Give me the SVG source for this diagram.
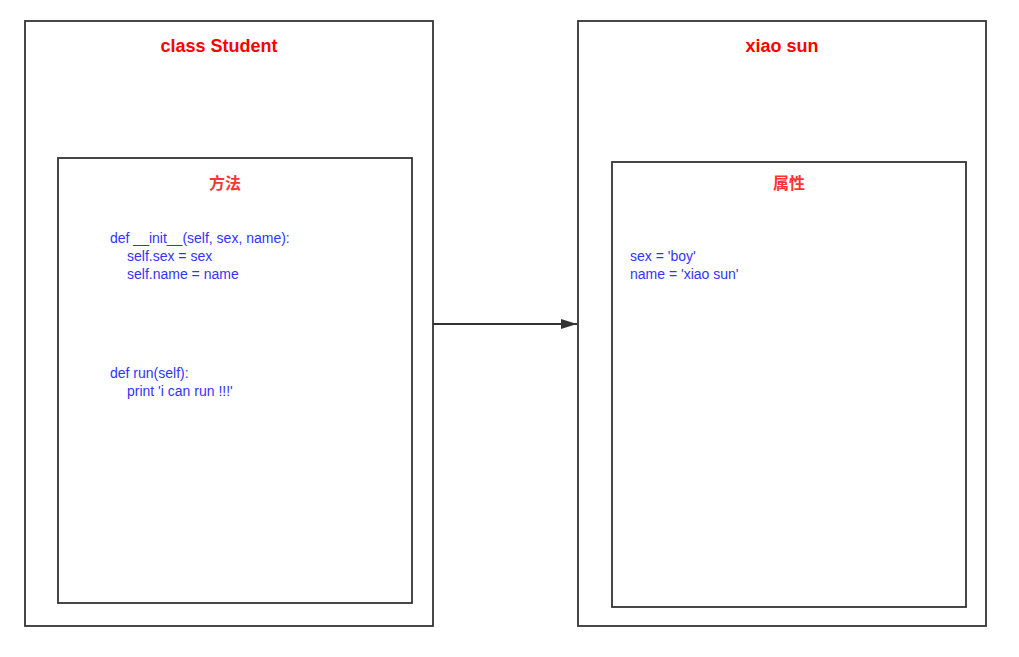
<svg xmlns="http://www.w3.org/2000/svg" width="1019" height="657" viewBox="0 0 1019 657">
<defs>
<style>
.box{fill:#fff;stroke:#333;stroke-width:1.8}
.title{font-family:"Liberation Sans","Noto Sans CJK SC",sans-serif;font-size:18px;font-weight:bold;fill:#ff0000;text-anchor:middle}
.sub{font-family:"Noto Sans CJK SC","Liberation Sans",sans-serif;font-size:16px;font-weight:bold;fill:#ff3333;text-anchor:middle}
.code{font-family:"Liberation Sans","Noto Sans CJK SC",sans-serif;font-size:14px;fill:#3333ff}
</style>
<marker id="arr" viewBox="0 0 16 10" refX="16" refY="5" markerWidth="16" markerHeight="10" markerUnits="userSpaceOnUse" orient="auto">
<path d="M0,0 L16,5 L0,10 z" fill="#333"/>
</marker>
</defs>
<rect width="1019" height="657" fill="#fff"/>
<g id="class-student">
<rect class="box" x="25" y="21" width="408" height="605"/>
<text class="title" x="219" y="52">class Student</text>
</g>
<g id="methods">
<rect class="box" x="58" y="158" width="354" height="445"/>
<text class="sub" x="225" y="189">方法</text>
<text class="code" x="110" y="243">def __init__(self, sex, name):</text>
<text class="code" x="127" y="261">self.sex = sex</text>
<text class="code" x="127" y="279">self.name = name</text>
<text class="code" x="110" y="378">def run(self):</text>
<text class="code" x="127" y="396">print 'i can run !!!'</text>
</g>
<g id="xiao-sun">
<rect class="box" x="578" y="21" width="408" height="605"/>
<text class="title" x="782" y="52">xiao sun</text>
</g>
<g id="attributes">
<rect class="box" x="612" y="162" width="354" height="445"/>
<text class="sub" x="789" y="189">属性</text>
<text class="code" x="630" y="261">sex = 'boy'</text>
<text class="code" x="630" y="279">name = 'xiao sun'</text>
</g>
<g id="connectors">
<line x1="433" y1="324" x2="577" y2="324" stroke="#333" stroke-width="1.8" marker-end="url(#arr)"/>
</g>
</svg>
